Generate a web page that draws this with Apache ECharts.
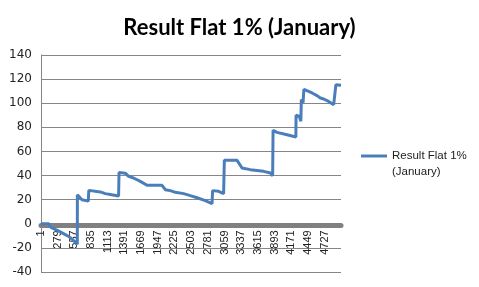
<!DOCTYPE html>
<html>
<head>
<meta charset="utf-8">
<script src="https://cdn.jsdelivr.net/npm/echarts@6/dist/echarts.min.js"></script>
<style>
html,body{margin:0;padding:0;background:#fff;}
#chart{width:479px;height:287px;}
</style>
</head>
<body>
<div id="chart"></div>
<script>
var titleText = 'Result Flat 1% (January)';
var seriesName = 'Result Flat 1% (January)';
var xTicks = [1, 279, 557, 835, 1113, 1391, 1669, 1947, 2225, 2503, 2781, 3059, 3337, 3615, 3893, 4171, 4449, 4727];
var xMin = 1, xMax = 5000;
var yMin = -40, yMax = 140, yStep = 20;
var xs = [1, 131, 164, 256, 368, 478, 561, 606, 607, 684, 701, 789, 798, 989, 1073, 1156, 1294, 1301, 1406, 1461, 1544, 1656, 1768, 2018, 2073, 2156, 2239, 2378, 2489, 2601, 2739, 2851, 2861, 2961, 3044, 3056, 3268, 3351, 3489, 3711, 3823, 3861, 3868, 3934, 4101, 4248, 4251, 4306, 4331, 4339, 4368, 4381, 4461, 4518, 4601, 4656, 4711, 4794, 4878, 4906, 4915, 5000];
var ys = [0, 0, -3, -5, -8, -11, -14.6, -17, 24, 20, 18.6, 18.8, 27.7, 26.4, 25, 24.3, 23, 42.6, 42, 39.3, 38, 35.2, 31.9, 31.9, 28.3, 27.5, 26.1, 25, 23.3, 21.6, 19.2, 16.7, 27.5, 26.9, 25, 52.6, 52.6, 46.3, 44.9, 43.5, 42.1, 39.9, 77.5, 75.8, 73.9, 72, 90, 89, 85, 103, 100.5, 111.5, 109.8, 108.5, 106.3, 104.3, 103.5, 101.5, 98.8, 98.5, 115.4, 115];

var data = xs.map(function (x, i) { return [x, ys[i]]; });

var gridTop = 55, gridBottom = 15, gridLeft = 41, gridRight = 138;
var gridH = 287 - gridTop - gridBottom;
var zeroOffset = -gridH * (0 - yMin) / (yMax - yMin) + 1.5;

var chart = echarts.init(document.getElementById('chart'), null, {renderer: 'canvas'});
chart.setOption({
  animation: false,
  backgroundColor: '#ffffff',
  title: {
    text: titleText,
    left: 'center',
    top: 12,
    textStyle: {fontFamily: 'Lato', fontWeight: 'bold', fontSize: 22, color: '#000'}
  },
  legend: {
    left: 361,
    top: 132,
    padding: 0,
    icon: 'rect',
    itemWidth: 26,
    itemHeight: 3,
    itemGap: 5,
    formatter: function () { return '\nResult Flat 1%\n(January)'; },
    textStyle: {fontFamily: 'Liberation Sans', fontSize: 11.5, color: '#222', lineHeight: 16}
  },
  grid: {left: gridLeft, right: gridRight, top: gridTop, bottom: gridBottom, containLabel: false},
  xAxis: {
    type: 'value',
    min: xMin,
    max: xMax,
    position: 'bottom',
    offset: zeroOffset,
    axisLine: {show: true, onZero: false, lineStyle: {color: '#808080', width: 5}},
    axisTick: {show: false, customValues: xTicks},
    splitLine: {show: false},
    axisLabel: {
      customValues: xTicks,
      rotate: 90,
      margin: 5,
      formatter: function (v) { return String(v); },
      fontFamily: 'Liberation Sans',
      fontSize: 11,
      color: '#222'
    }
  },
  yAxis: {
    type: 'value',
    min: yMin,
    max: yMax,
    interval: yStep,
    axisLine: {show: true, onZero: false, lineStyle: {color: '#868686', width: 1}},
    axisTick: {show: false},
    splitLine: {show: true, lineStyle: {color: '#868686', width: 1}},
    axisLabel: {fontFamily: 'DejaVu Sans', fontSize: 12, color: '#222', margin: 9}
  },
  series: [{
    name: seriesName,
    type: 'line',
    data: data,
    symbol: 'none',
    lineStyle: {color: '#4A7EBB', width: 3},
    itemStyle: {color: '#4A7EBB'}
  }]
});
</script>
</body>
</html>
